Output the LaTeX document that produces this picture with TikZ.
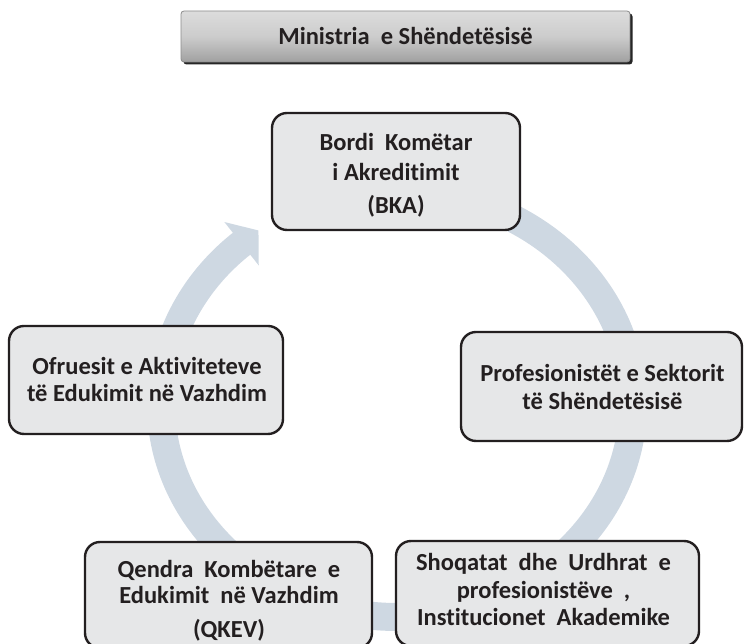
\documentclass[tikz,border=0pt]{standalone}
\usepackage{fontspec}
\setmainfont{Carlito}[Ligatures={NoCommon,NoContextual}]
\usetikzlibrary{calc,shadows}
\definecolor{ringcol}{RGB}{206,216,226}
\definecolor{boxfill}{RGB}{230,231,232}
\definecolor{boxline}{RGB}{35,31,32}
\definecolor{mintop}{RGB}{220,220,220}
\definecolor{minmid}{RGB}{204,204,204}
\definecolor{minbot}{RGB}{160,160,160}
\definecolor{minedge}{RGB}{140,140,140}
\newcommand{\myspc}{\hspace{0.45em}}
\begin{document}
\begin{tikzpicture}[x=1pt,y=1pt,
  cycbox/.style={rectangle, draw=boxline, fill=boxfill, line width=2.4pt, rounded corners=15pt, inner sep=0pt},
  cyctext/.style={text=boxline, font=\fontsize{24.5}{27}\selectfont\bfseries, align=center, inner sep=0pt},
  minbox/.style={rectangle, rounded corners=3pt, top color=mintop, bottom color=minbot, middle color=minmid,
    draw=minedge, line width=0.8pt,
    drop shadow={shadow xshift=2.5pt, shadow yshift=-2.5pt, fill=black!85, opacity=1},
    minimum width=449pt, minimum height=51pt, text=boxline,
    font=\fontsize{24.5}{27}\selectfont\bfseries, inner sep=0pt},
  ringline/.style={draw=ringcol, line width=28pt},
  ringhead/.style={fill=ringcol}]
\useasboundingbox (0,0) rectangle (744,644);
% cycle ring
\coordinate (C) at (397,240);
\draw[ringline] ($(C)+(90:236pt and 213pt)$) arc[start angle=90, end angle=-229.3, x radius=236pt, y radius=213pt];
\coordinate (E) at ($(C)+(131.2:236pt and 213pt)$);
\fill[ringhead] ($(E)+(-17.2,21.7)$) -- ($(E)+(16.9,13.3)$) -- ($(E)+(17.2,-21.7)$) -- cycle;
% boxes
\node[cycbox, minimum width=248pt, minimum height=117pt] (bka) at (396,472.5) {};
\node[cyctext] (bkatext) at (396,469) {Bordi\myspc Komëtar\\[3pt]i Akreditimit\\[6pt](BKA)};
\node[cycbox, minimum width=281pt, minimum height=109pt] (prof) at (601.5,257.5) {};
\node[cyctext] (proftext) at (602.5,256.5) {Profesionistët e Sektorit\\[1pt]të Shëndetësisë};
\node[cycbox, minimum width=274pt, minimum height=108pt] (ofr) at (146,264) {};
\node[cyctext] (ofrtext) at (147,264) {Ofruesit e Aktiviteteve\\të Edukimit në Vazhdim};
\node[cycbox, minimum width=287pt, minimum height=106pt] (qkev) at (228.5,49) {};
\node[cyctext] (qkevtext) at (229,43.5) {Qendra\myspc Kombëtare\myspc e\\[-1pt]Edukimit\myspc në Vazhdim\\[7pt](QKEV)};
\node[cycbox, minimum width=303pt, minimum height=105pt] (sho) at (547.5,50.5) {};
\node[cyctext] (shotext) at (543.5,55) {Shoqatat\myspc dhe\myspc Urdhrat\myspc e\\[1pt]profesionistëve\myspc,\\Institucionet\myspc Akademike};
% ministry
\node[minbox] (min) at (405.5,607.5) {Ministria\myspc e Shëndetësisë};
\end{tikzpicture}
\end{document}
